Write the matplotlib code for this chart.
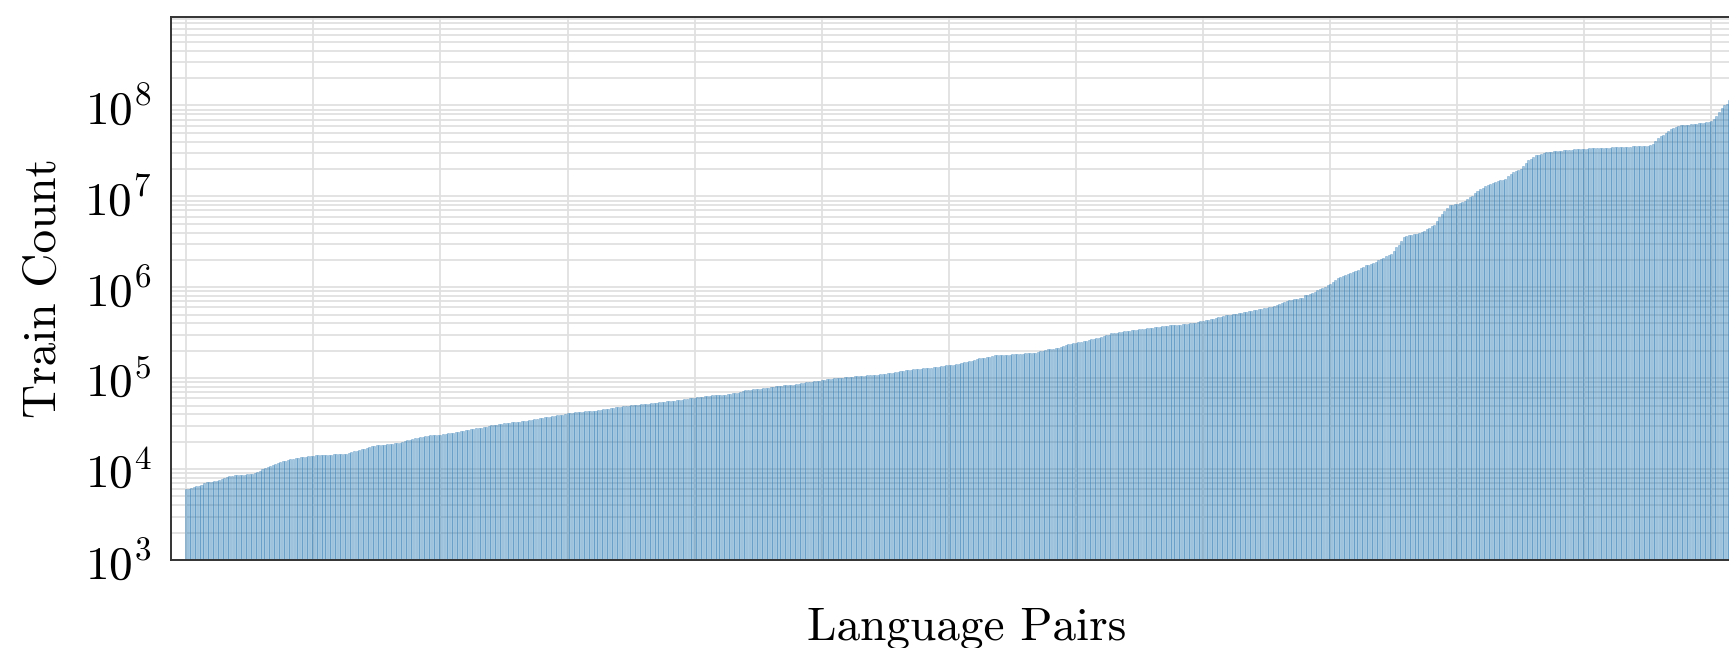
import numpy as np
import matplotlib
matplotlib.use("Agg")
from matplotlib import pyplot as plt
from matplotlib.ticker import FixedLocator, LogLocator, NullFormatter

# train count per language pair, sorted as log10(count) * 100
train_log10_x100 = [
    378, 378, 379, 380, 381, 381, 383, 385, 386, 386,
    386, 387, 387, 388, 389, 390, 391, 392, 392, 393,
    393, 393, 394, 394, 395, 395, 395, 396, 397, 398,
    400, 401, 402, 403, 404, 406, 407, 408, 409, 409,
    410, 411, 411, 412, 412, 413, 413, 413, 414, 414,
    414, 415, 415, 415, 416, 416, 416, 416, 417, 417,
    417, 417, 417, 417, 418, 419, 420, 420, 421, 422,
    422, 423, 424, 425, 425, 426, 426, 427, 427, 428,
    428, 428, 429, 429, 429, 430, 431, 432, 432, 433,
    434, 434, 435, 435, 436, 436, 437, 437, 438, 438,
    438, 439, 439, 440, 440, 440, 441, 441, 442, 442,
    443, 443, 444, 444, 445, 445, 445, 446, 446, 447,
    448, 448, 449, 450, 450, 451, 451, 451, 452, 452,
    452, 452, 453, 453, 453, 454, 454, 455, 455, 456,
    456, 457, 457, 457, 458, 458, 459, 460, 460, 461,
    462, 462, 462, 463, 463, 463, 463, 464, 464, 464,
    464, 464, 465, 465, 466, 466, 466, 467, 467, 468,
    468, 468, 469, 469, 469, 470, 470, 471, 471, 472,
    472, 472, 472, 473, 473, 473, 474, 474, 474, 475,
    475, 475, 475, 476, 476, 476, 477, 477, 478, 478,
    478, 479, 479, 479, 480, 480, 480, 481, 481, 481,
    482, 482, 482, 483, 483, 484, 484, 484, 485, 486,
    487, 487, 487, 488, 488, 488, 488, 489, 489, 489,
    490, 490, 491, 491, 491, 492, 492, 492, 493, 493,
    494, 494, 495, 495, 496, 496, 496, 497, 497, 497,
    498, 498, 499, 499, 499, 500, 500, 500, 500, 501,
    501, 501, 501, 502, 502, 502, 502, 502, 503, 503,
    503, 504, 504, 505, 505, 505, 506, 506, 506, 507,
    507, 508, 508, 509, 509, 509, 510, 510, 510, 510,
    511, 511, 511, 511, 512, 512, 512, 513, 513, 514,
    514, 515, 515, 516, 516, 517, 518, 518, 519, 519,
    520, 521, 522, 522, 522, 523, 523, 524, 525, 525,
    525, 526, 526, 526, 526, 527, 527, 527, 527, 527,
    528, 528, 528, 528, 528, 529, 530, 530, 531, 532,
    532, 532, 533, 533, 534, 535, 536, 538, 538, 539,
    539, 540, 540, 541, 541, 542, 543, 543, 544, 544,
    545, 546, 547, 548, 550, 550, 550, 551, 551, 552,
    552, 552, 553, 553, 553, 554, 554, 554, 555, 555,
    555, 556, 556, 556, 557, 557, 557, 558, 558, 558,
    559, 559, 560, 560, 560, 561, 561, 561, 562, 563,
    563, 564, 564, 565, 565, 566, 567, 567, 568, 569,
    570, 570, 571, 571, 572, 572, 573, 573, 574, 574,
    575, 575, 576, 576, 577, 577, 578, 578, 579, 581,
    582, 583, 584, 585, 586, 586, 587, 587, 588, 588,
    591, 592, 593, 594, 595, 597, 598, 599, 600, 602,
    604, 606, 608, 610, 611, 612, 613, 615, 616, 617,
    618, 619, 621, 622, 624, 625, 626, 627, 628, 630,
    631, 632, 634, 635, 637, 640, 644, 647, 651, 655,
    656, 657, 658, 659, 659, 660, 661, 662, 664, 665,
    667, 669, 673, 677, 681, 684, 687, 690, 691, 692,
    692, 693, 694, 695, 697, 699, 700, 704, 706, 708,
    709, 711, 713, 714, 715, 716, 717, 718, 718, 719,
    722, 725, 727, 728, 729, 730, 733, 737, 740, 741,
    743, 745, 746, 747, 748, 749, 749, 749, 750, 750,
    750, 750, 751, 751, 751, 751, 752, 752, 752, 752,
    752, 752, 753, 753, 753, 753, 753, 753, 753, 753,
    753, 754, 754, 754, 754, 754, 754, 754, 754, 755,
    755, 755, 755, 755, 755, 755, 756, 758, 761, 764,
    766, 768, 770, 772, 774, 775, 776, 777, 778, 779,
    779, 779, 780, 780, 780, 781, 781, 781, 782, 782,
    783, 785, 788, 793, 797, 800, 802, 806, 810, 814,
    818, 822, 826, 830, 835,
]
train_counts = 10 ** (np.array(train_log10_x100) / 100.0)
pair_index = np.arange(len(train_counts))

y_decades = [1e3, 1e4, 1e5, 1e6, 1e7, 1e8]

plt.rcParams["font.family"] = "serif"
plt.rcParams["font.serif"] = ["cmr10", "DejaVu Serif"]
plt.rcParams["mathtext.fontset"] = "cm"
plt.rcParams["axes.formatter.use_mathtext"] = True

fig = plt.figure(figsize=(17.29, 6.48), dpi=100)
# axes run past the right edge of the figure, as in the reference
ax = fig.add_axes([0.0989, 0.1358, 0.9203, 0.838])
ax.set_axisbelow(True)

ax.bar(pair_index, train_counts, width=0.8, color="tab:blue", alpha=0.4,
       edgecolor="#3a7fb5", linewidth=0.6)

ax.set_yscale("log")
ax.set_ylim(1e3, 9.4e8)
ax.yaxis.set_major_locator(FixedLocator(y_decades))
ax.yaxis.set_minor_locator(LogLocator(base=10, subs=np.arange(2, 10), numticks=50))
ax.yaxis.set_minor_formatter(NullFormatter())
ax.set_xlim(-6, 620)
ax.set_xticks(np.arange(0, 620, 50))
ax.set_xticklabels([])

ax.grid(True, which="major", color="#e0e0e0", linewidth=1.3)
ax.grid(True, which="minor", axis="y", color="#e0e0e0", linewidth=1.3)
ax.tick_params(axis="both", which="both", length=0, labelsize=34, pad=14)

for s in ax.spines.values():
    s.set_color("#333333")
    s.set_linewidth(1.4)

ax.set_ylabel("Train Count", fontsize=34, labelpad=14)
ax.set_xlabel("Language Pairs", fontsize=34, labelpad=20)

fig.savefig("out.png", dpi=100)
